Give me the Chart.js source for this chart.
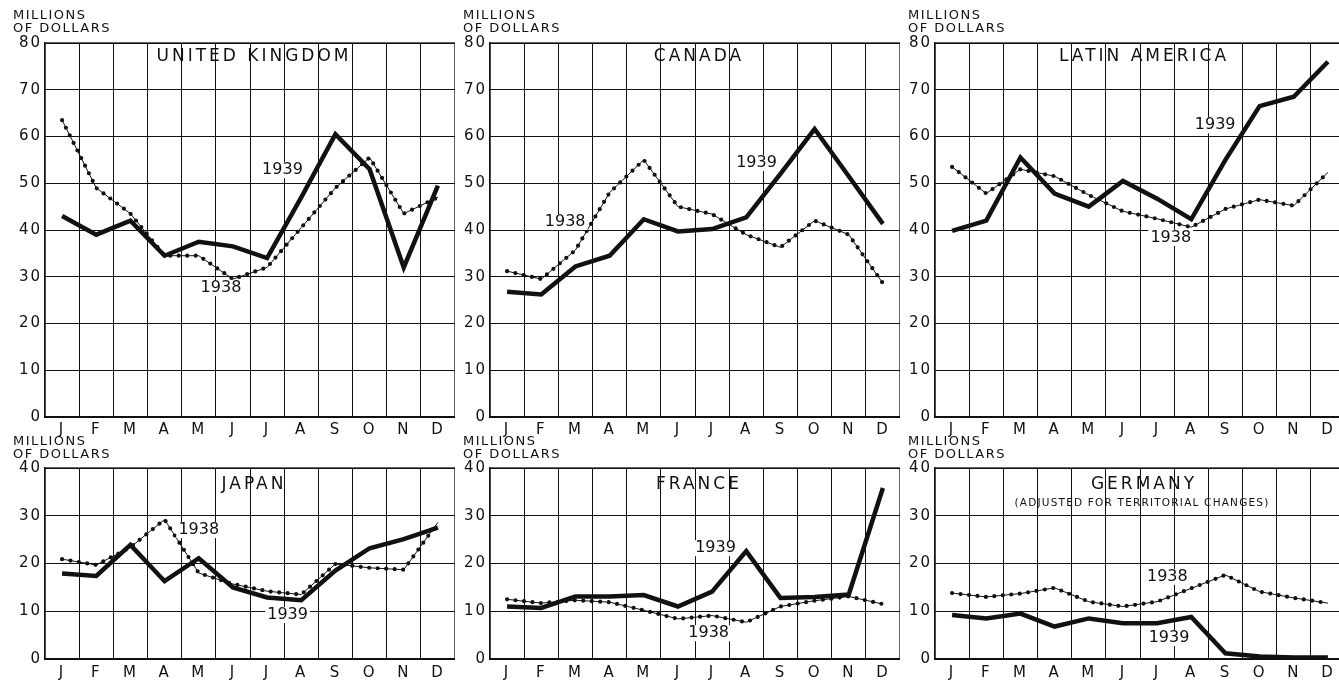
<!DOCTYPE html>
<html>
<head>
<meta charset="utf-8">
<script src="https://cdn.jsdelivr.net/npm/chart.js@4.4.1/dist/chart.umd.min.js"></script>
<style>
  html, body { margin: 0; padding: 0; background: #fff; width: 1339px; height: 683px; overflow: hidden; }
  canvas { position: absolute; }
</style>
</head>
<body>
<canvas id="c0" width="455" height="440" style="left:0;top:0"></canvas>
<canvas id="c1" width="445" height="440" style="left:455px;top:0"></canvas>
<canvas id="c2" width="445" height="440" style="left:900px;top:0"></canvas>
<canvas id="c3" width="455" height="253" style="left:0;top:430px"></canvas>
<canvas id="c4" width="445" height="253" style="left:455px;top:430px"></canvas>
<canvas id="c5" width="445" height="253" style="left:900px;top:430px"></canvas>
<script>
// months and monthly values (millions of dollars)
const months = ['J', 'F', 'M', 'A', 'M', 'J', 'J', 'A', 'S', 'O', 'N', 'D'];

const uk1939 = [43, 39, 42, 34.5, 37.5, 36.5, 34, 47, 60.5, 53, 32, 49.5];
const uk1938 = [63.5, 49, 43.5, 34.5, 34.5, 29.5, 32, 40.5, 49, 55.5, 43.5, 47];
const canada1939 = [26.8, 26.2, 32.2, 34.5, 42.3, 39.7, 40.2, 42.7, 52, 61.6, 51.5, 41.3];
const canada1938 = [31.2, 29.5, 35.7, 48, 55, 45, 43.4, 39, 36.3, 42, 39, 28.6];
const latin1939 = [39.8, 42, 55.5, 47.8, 45, 50.5, 46.7, 42.3, 55, 66.5, 68.5, 76];
const latin1938 = [53.5, 47.8, 53, 51.5, 47.5, 44, 42.4, 40.6, 44.5, 46.5, 45.2, 52.3];
const japan1939 = [17.9, 17.4, 23.9, 16.3, 21.1, 15, 12.9, 12.3, 18.5, 23.2, 25.1, 27.5];
const japan1938 = [20.9, 19.7, 23.4, 29.2, 18, 15.7, 14.2, 13.5, 19.9, 19.1, 18.7, 28.6];
const france1939 = [11, 10.7, 13.1, 13.1, 13.4, 11, 14.1, 22.6, 12.8, 13, 13.5, 35.8];
const france1938 = [12.5, 11.7, 12.3, 11.9, 10.2, 8.4, 9.1, 7.7, 11, 12.2, 13.1, 11.5];
const germany1939 = [9.2, 8.5, 9.5, 6.8, 8.5, 7.5, 7.5, 8.8, 1.2, 0.5, 0.3, 0.3];
const germany1938 = [13.8, 13, 13.7, 14.9, 12, 11, 12, 14.8, 17.6, 14.1, 12.8, 11.7];

const topMax = 80;
const bottomMax = 40;

// year labels: [text, month index, value]
const ukNotes = [['1939', 6.45, 52.8], ['1938', 4.65, 27.6]];
const canadaNotes = [['1939', 7.3, 54.3], ['1938', 1.7, 41.7]];
const latinNotes = [['1939', 7.7, 62.4], ['1938', 6.4, 38.3]];
const japanNotes = [['1938', 4.0, 27], ['1939', 6.6, 9.2]];
const franceNotes = [['1939', 6.1, 23.2], ['1938', 5.9, 5.4]];
const germanyNotes = [['1938', 6.3, 17.2], ['1939', 6.35, 4.4]];

const FONT = '"DejaVu Sans", sans-serif';
const INK = '#111';

const panelText = {
  id: 'panelText',
  beforeDraw(chart) {
    chart.ctx.letterSpacing = '2px';
  },
  afterDraw(chart, args, o) {
    const { ctx, chartArea: a, scales: { x, y } } = chart;
    ctx.save();
    ctx.strokeStyle = INK;
    ctx.lineWidth = 1.3;
    ctx.strokeRect(a.left, a.top, a.right - a.left, a.bottom - a.top);

    ctx.fillStyle = INK;
    ctx.textBaseline = 'middle';

    // unit label
    ctx.textAlign = 'left';
    ctx.letterSpacing = '1.5px';
    ctx.font = '13px ' + FONT;
    ctx.fillText('MILLIONS', o.unitX, a.top - o.unitGap);
    ctx.fillText('OF DOLLARS', o.unitX, a.top - o.unitGap + 13);

    // title
    const cx = (a.left + a.right) / 2;
    ctx.textAlign = 'center';
    ctx.letterSpacing = '3px';
    ctx.font = '17px ' + FONT;
    ctx.fillText(o.title, cx + 4, a.top + o.titleDy);
    if (o.subtitle) {
      ctx.letterSpacing = '1.2px';
      ctx.font = '10.5px ' + FONT;
      ctx.fillText(o.subtitle, cx + 2, a.top + o.titleDy + 18);
    }

    // year labels
    ctx.letterSpacing = '0px';
    ctx.font = '16px ' + FONT;
    o.notes.forEach(([t, i, v]) => {
      const px = x.getPixelForValue(i);
      const py = y.getPixelForValue(v);
      ctx.fillStyle = '#fff';
      const w = ctx.measureText(t).width;
      ctx.fillRect(px - w / 2 - 2, py - 8, w + 4, 16);
      ctx.fillStyle = INK;
      ctx.fillText(t, px, py);
    });
    ctx.restore();
  }
};

function makePanel(id, title, subtitle, a1939, a1938, notes, max, isTop, col) {
  const axisW = col === 0 ? 45 : 35;
  new Chart(document.getElementById(id), {
    type: 'line',
    data: {
      labels: months,
      datasets: [
        {
          label: '1939',
          data: a1939,
          borderColor: INK,
          borderWidth: 4.5,
          borderJoinStyle: 'miter',
          pointRadius: 0,
          tension: 0
        },
        {
          label: '1938 dots',
          data: a1938,
          borderColor: INK,
          borderWidth: 4.2,
          borderDash: [0, 8.5],
          borderCapStyle: 'round',
          pointRadius: 0,
          tension: 0
        },
        {
          label: '1938',
          data: a1938,
          borderColor: INK,
          borderWidth: 1,
          pointRadius: 0,
          tension: 0
        }
      ]
    },
    options: {
      responsive: false,
      animation: false,
      events: [],
      layout: { padding: { top: isTop ? 43 : 38, right: 0, bottom: 0, left: 0 } },
      plugins: {
        legend: { display: false },
        tooltip: { enabled: false },
        panelText: {
          title: title,
          subtitle: subtitle,
          notes: notes,
          titleDy: isTop ? 14 : 17,
          unitX: col === 0 ? 13 : 8,
          unitGap: isTop ? 27 : 26
        }
      },
      scales: {
        x: {
          type: 'category',
          offset: true,
          afterFit: s => { s.height = isTop ? 23 : 24; },
          grid: { offset: true, color: INK, lineWidth: 1, drawTicks: false },
          border: { color: INK, width: 1.3 },
          ticks: {
            color: INK,
            padding: isTop ? 4 : 5,
            maxRotation: 0,
            autoSkip: false,
            font: { family: FONT, size: 15 }
          }
        },
        y: {
          min: 0,
          max: max,
          afterFit: s => { s.width = axisW; },
          grid: { color: INK, lineWidth: 1, drawTicks: false },
          border: { color: INK, width: 1.3 },
          ticks: {
            stepSize: 10,
            color: INK,
            padding: 3,
            font: { family: FONT, size: 15 }
          }
        }
      }
    },
    plugins: [panelText]
  });
}

makePanel('c0', 'UNITED KINGDOM', null, uk1939, uk1938, ukNotes, topMax, true, 0);
makePanel('c1', 'CANADA', null, canada1939, canada1938, canadaNotes, topMax, true, 1);
makePanel('c2', 'LATIN AMERICA', null, latin1939, latin1938, latinNotes, topMax, true, 2);
makePanel('c3', 'JAPAN', null, japan1939, japan1938, japanNotes, bottomMax, false, 0);
makePanel('c4', 'FRANCE', null, france1939, france1938, franceNotes, bottomMax, false, 1);
makePanel('c5', 'GERMANY', '(ADJUSTED FOR TERRITORIAL CHANGES)', germany1939, germany1938, germanyNotes, bottomMax, false, 2);
</script>
</body>
</html>
